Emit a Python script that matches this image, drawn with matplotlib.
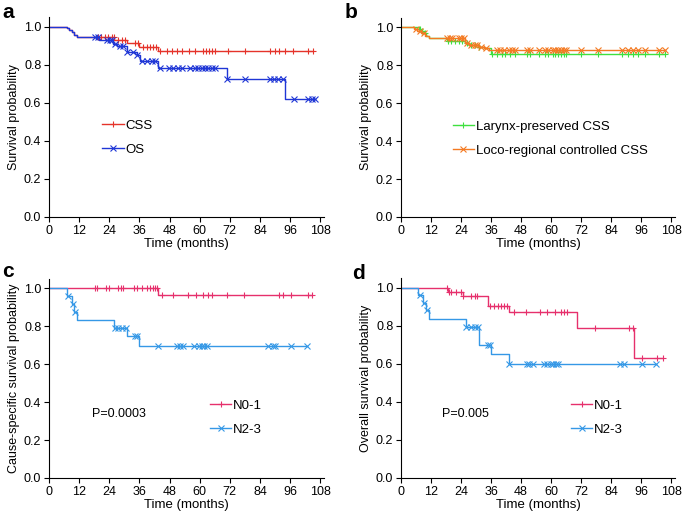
import numpy as np
import matplotlib.pyplot as plt
from matplotlib.ticker import FormatStrFormatter

plt.rcParams['font.family'] = ['Liberation Sans', 'DejaVu Sans']

# --- panel a: CSS / OS ---
a_css_t = [0, 7, 8, 9, 10, 11, 26, 31, 36, 43.5]
a_css_s = [1.0, 0.99, 0.98, 0.97, 0.955, 0.946, 0.928, 0.912, 0.893, 0.874]
a_css_c = [19.7, 20.7, 22.3, 23.6, 25, 25.9, 27.6, 29, 30.3, 34.3, 35.6, 37.6, 38.9, 40.2,
           41.5, 42.8, 44.2, 46.9, 48.9, 50.9, 52.9, 55.9, 58.2, 61.5, 62.6, 63.9, 65, 66,
           71.2, 78.1, 88.1, 89.8, 91.7, 93.8, 97, 103.3, 105.1]
a_os_t = [0, 7, 8, 9, 10, 11, 20, 25.5, 27, 31, 35, 36.3, 43.6, 70.8, 94]
a_os_s = [1.0, 0.99, 0.98, 0.97, 0.955, 0.946, 0.928, 0.91, 0.9, 0.868, 0.85, 0.82, 0.78, 0.725, 0.62]
a_os_c = [18.3, 19.7, 23, 24.2, 25, 26.3, 28.3, 29.6, 31, 33.6, 35, 36.9, 38.9, 40.9, 42.2, 44,
          47.6, 49.5, 51.5, 52.9, 56.2, 58.2, 59.5, 60.9, 62.2, 63.5, 64.8, 66.2, 70.8, 78.1,
          87.8, 89.4, 91, 93, 97.4, 103.1, 104.7, 105.8]

# --- panel b: larynx-preserved / loco-regional controlled CSS ---
b_lar_t = [0, 7, 8, 9, 10, 11, 18.4, 25.7, 27, 31, 33, 36]
b_lar_s = [1.0, 0.99, 0.98, 0.97, 0.955, 0.945, 0.928, 0.92, 0.91, 0.895, 0.89, 0.862]
b_lar_c = [7.5, 8.5, 9.5, 18.8, 20, 21.5, 23, 24.5, 26.5, 28, 29.5, 31, 36.5, 38.4, 40.4,
           41.7, 43.7, 45.7, 50.4, 51.7, 55, 57.5, 58.8, 60.8, 61.7, 62.8, 63.9, 65, 66.1,
           71.8, 78.7, 88.4, 90.6, 92.6, 94.7, 97.6, 103.3, 105.5]
b_loc_t = [0, 5.2, 6.5, 8, 9.5, 11.1, 25.7, 27, 31, 33, 35]
b_loc_s = [1.0, 0.99, 0.98, 0.97, 0.955, 0.945, 0.92, 0.91, 0.895, 0.89, 0.88]
b_loc_c = [6, 7.5, 9, 18.5, 19.5, 20.5, 23, 24, 25, 26.5, 28, 29.5, 30.5, 32, 34, 38.4, 39.7,
           41.3, 43, 44.4, 45.7, 50.4, 51.7, 55, 57.5, 58.8, 60.8, 61.7, 62.8, 63.9, 65,
           66.1, 71.8, 78.7, 88.4, 90.6, 92.6, 94.7, 97.6, 103.3, 105.5]

# --- panel c: cause-specific survival by N stage ---
c_n01_t = [0, 43.5]
c_n01_s = [1.0, 0.963]
c_n01_c = [18.3, 19.3, 22.7, 24, 27.6, 28.6, 29.6, 34, 35, 36.9, 38.9, 40.3, 41.3, 42.2, 43.2,
           44.9, 49.5, 55.5, 58.6, 61.5, 63.5, 65.1, 70.8, 77.8, 91.4, 93.1, 96.4, 103.3, 104.7]
c_n23_t = [0, 7, 9, 10, 11, 26, 31, 35.8]
c_n23_s = [1.0, 0.958, 0.917, 0.875, 0.833, 0.792, 0.75, 0.694]
c_n23_c = [7.7, 9.4, 10.4, 26.3, 27.6, 29, 30.7, 34.3, 35.2, 43.6, 50.9, 52.2, 53.3, 57.8,
           59.9, 60.8, 61.8, 62.8, 87.4, 89.1, 89.8, 96.4, 102.7]

# --- panel d: overall survival by N stage ---
d_n01_t = [0, 18.8, 24.8, 34.7, 43.3, 70.4, 93.3]
d_n01_s = [1.0, 0.979, 0.956, 0.905, 0.874, 0.786, 0.629]
d_n01_c = [18.2, 19.2, 20.1, 22.1, 23.9, 24.8, 28.1, 29.4, 30.5, 35.4, 37.1, 38.7, 40, 41.3,
           42.4, 45.3, 50, 55.5, 58.4, 61.7, 64, 65, 66.3, 77.4, 91.3, 92.9, 96.2, 102.5, 104.8]
d_n23_t = [0, 6.9, 8.9, 9.9, 11.1, 25.8, 31, 35.8, 43.3]
d_n23_s = [1.0, 0.96, 0.92, 0.88, 0.833, 0.793, 0.70, 0.65, 0.60]
d_n23_c = [7.6, 9.3, 10.2, 26.1, 27.8, 29.4, 30.7, 34.7, 35.6, 43.3, 50.4, 51.3, 52.6, 57.2,
           58.3, 59.9, 60.9, 61.9, 62.8, 87.5, 89, 96.3, 102]

RED = '#e5332a'
DBLUE = '#1f36d6'
GREEN = '#3fe03f'
ORANGE = '#f47a22'
PINK = '#e6306c'
LBLUE = '#3598e6'


def km(ax, t, s, cens, color, marker, label):
    end = max(max(cens), t[-1])
    tt = list(t) + [end]
    ss = list(s) + [s[-1]]
    ax.step(tt, ss, where='post', color=color, lw=1.0)
    cy = [s[np.searchsorted(t, c, side='right') - 1] for c in cens]
    ax.plot(cens, cy, ls='none', marker=marker, color=color, ms=4, mew=0.8)
    ax.plot([], [], color=color, marker=marker, ms=4, mew=0.8, lw=1.0, label=label)


def style(ax, ylabel):
    for sp in ['top', 'right']:
        ax.spines[sp].set_visible(False)
    ax.set_xlim(0, 109.5)
    ax.set_ylim(0, 1.05)
    ax.set_xticks(np.arange(0, 109, 12))
    ax.set_yticks(np.arange(0, 1.01, 0.2))
    ax.yaxis.set_major_formatter(FormatStrFormatter('%.1f'))
    ax.tick_params(direction='out', length=3.5, labelsize=9, pad=2)
    ax.set_xlabel('Time (months)', fontsize=9.5, labelpad=1)
    ax.set_ylabel(ylabel, fontsize=9, labelpad=3)


def leg(ax, x, y):
    ax.legend(loc='upper left', bbox_to_anchor=(x, y), frameon=False, fontsize=9.5,
              handlelength=1.6, handletextpad=0.15, labelspacing=0.9, borderaxespad=0)


fig = plt.figure(figsize=(6.84, 5.17), dpi=100)
W, H = 684, 517


def add_axes(l, t, r, b):
    return fig.add_axes([l / W, 1 - b / H, (r - l) / W, (b - t) / H])


ax_a = add_axes(49, 17, 324, 217)
ax_b = add_axes(401, 18, 675, 217)
ax_c = add_axes(49, 279, 324, 478)
ax_d = add_axes(401, 278, 675, 478)

km(ax_a, a_css_t, a_css_s, a_css_c, RED, '+', 'CSS')
km(ax_a, a_os_t, a_os_s, a_os_c, DBLUE, 'x', 'OS')
style(ax_a, 'Survival probability')
leg(ax_a, 0.175, 0.515)

km(ax_b, b_lar_t, b_lar_s, b_lar_c, GREEN, '+', 'Larynx-preserved CSS')
km(ax_b, b_loc_t, b_loc_s, b_loc_c, ORANGE, 'x', 'Loco-regional controlled CSS')
style(ax_b, 'Survival probability')
leg(ax_b, 0.17, 0.512)

km(ax_c, c_n01_t, c_n01_s, c_n01_c, PINK, '+', 'N0-1')
km(ax_c, c_n23_t, c_n23_s, c_n23_c, LBLUE, 'x', 'N2-3')
style(ax_c, 'Cause-specific survival probability')
leg(ax_c, 0.567, 0.42)
ax_c.text(17, 0.32, 'P=0.0003', fontsize=9)

km(ax_d, d_n01_t, d_n01_s, d_n01_c, PINK, '+', 'N0-1')
km(ax_d, d_n23_t, d_n23_s, d_n23_c, LBLUE, 'x', 'N2-3')
style(ax_d, 'Overall survival probability')
leg(ax_d, 0.602, 0.42)
ax_d.text(16.5, 0.32, 'P=0.005', fontsize=9)

for lab, x, y in [('a', 2, 3), ('b', 345, 3), ('c', 2, 262), ('d', 352, 264)]:
    fig.text(x / W, 1 - y / H, lab, fontsize=15, fontweight='bold', va='top', ha='left')

fig.savefig('out.png', dpi=100)
